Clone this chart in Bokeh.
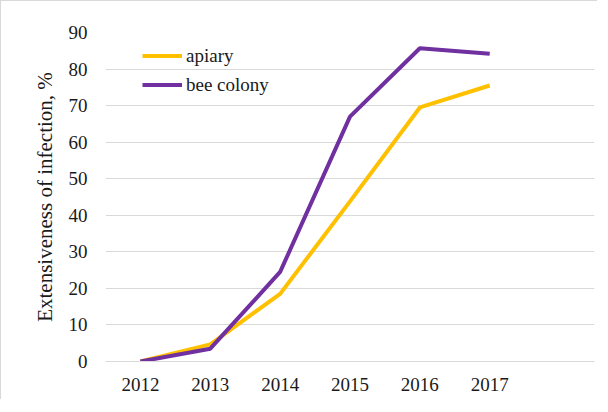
from bokeh.plotting import figure
from bokeh.models import Range1d, FixedTicker, Legend, LegendItem
from bokeh.embed import file_html
from bokeh.resources import INLINE

years = [2012, 2013, 2014, 2015, 2016, 2017]
apiary = [0, 4.7, 18.5, 43.8, 69.5, 75.5]
bee_colony = [0, 3.5, 24.5, 67, 85.7, 84.2]
y_ticks = [0, 10, 20, 30, 40, 50, 60, 70, 80, 90]
y_title = "Extensiveness of infection, %"

FONT = "'Liberation Serif', 'Times New Roman', serif"

p = figure(width=597, height=399, output_backend="svg", toolbar_location=None,
           x_range=Range1d(2011.5, 2018.5), y_range=Range1d(0, 90),
           min_border_left=104, min_border_right=4, min_border_top=31, min_border_bottom=39,
           styles={"border-top": "1px solid #d9d9d9", "border-left": "1px solid #d9d9d9"})
p.outline_line_color = None
p.background_fill_color = "white"
p.border_fill_color = "white"

r1 = p.line(years, apiary, line_color="#FFC000", line_width=4)
r2 = p.line(years, bee_colony, line_color="#7030A0", line_width=4)

p.xaxis.ticker = FixedTicker(ticks=years)
p.yaxis.ticker = FixedTicker(ticks=y_ticks)
p.xgrid.grid_line_color = None
p.ygrid.grid_line_color = "#d9d9d9"
p.ygrid.grid_line_width = 1

for ax in (p.xaxis[0], p.yaxis[0]):
    ax.major_tick_line_color = None
    ax.minor_tick_line_color = None
    ax.major_label_text_font = FONT
    ax.major_label_text_font_size = "19px"
    ax.major_label_text_color = "#1a1a1a"
p.xaxis.axis_line_color = "#d9d9d9"
p.yaxis.axis_line_color = None
p.xaxis.major_label_standoff = 10
p.yaxis.major_label_standoff = 12
p.yaxis.axis_label = y_title
p.yaxis.axis_label_text_font = FONT
p.yaxis.axis_label_text_font_size = "21px"
p.yaxis.axis_label_text_font_style = "normal"
p.yaxis.axis_label_text_color = "#1a1a1a"
p.yaxis.axis_label_standoff = 9

legend = Legend(items=[LegendItem(label="apiary", renderers=[r1]),
                       LegendItem(label="bee colony", renderers=[r2])],
                location=(37, 262),
                label_text_font="Times New Roman", label_text_font_size="19px",
                label_text_font_style="normal", label_text_color="#1a1a1a",
                background_fill_alpha=0, border_line_color=None,
                padding=0, margin=0, spacing=0,
                glyph_width=40, glyph_height=29, label_height=29, label_standoff=4)
p.add_layout(legend, "center")

open("out.html", "w").write(file_html(p, INLINE))
